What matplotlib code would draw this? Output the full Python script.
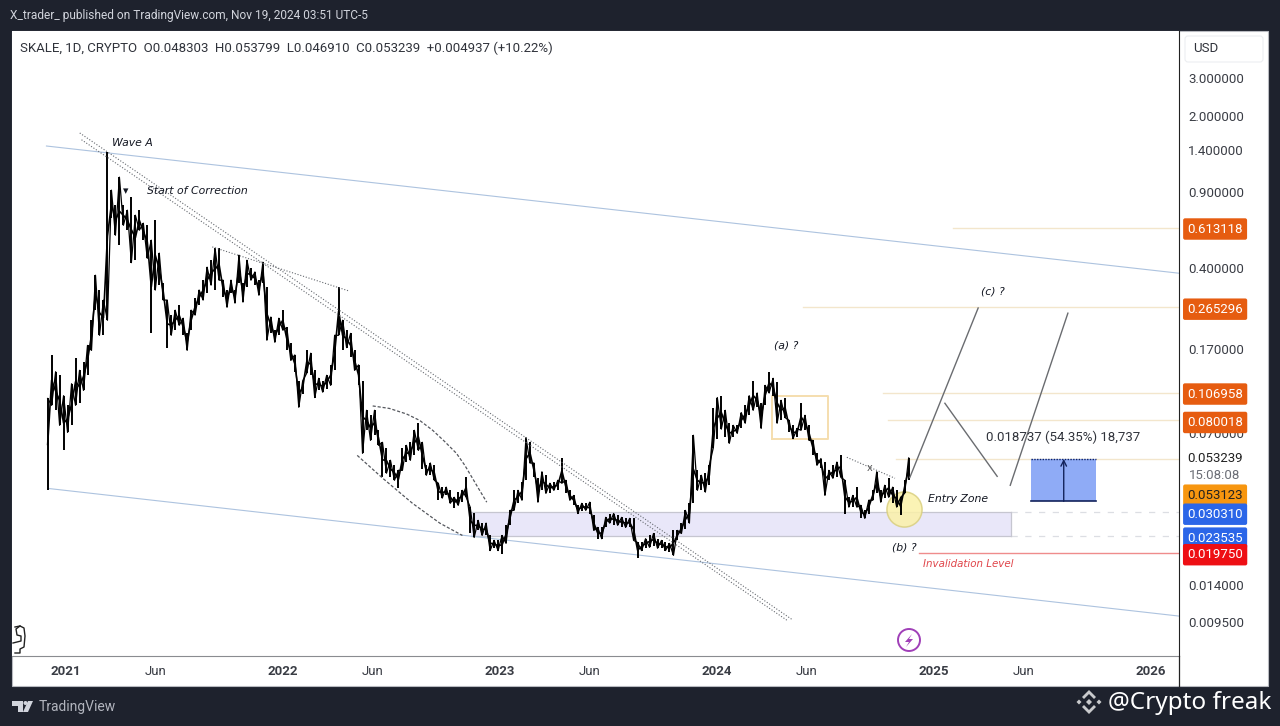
import matplotlib
matplotlib.use('Agg')
import matplotlib.dates as mdates
import matplotlib.pyplot as plt
import numpy as np
import pandas as pd
from matplotlib.patches import Circle, FancyBboxPatch, Polygon, Rectangle

# candle ranges, roughly one sample per week
highs = [.101, .160, .134, .129, .104, .0939, .118, .155, .136, .148, .177, .231, .372, .318, .286, 1.37,
         .915, .780, 1.05, .780, .740, .855, .702, .740, .645, .631, .539, .666, .470, .342, .286, .244,
         .257, .271, .236, .201, .257, .292, .318, .353, .405, .436, .495, .495, .353, .318, .353, .318,
         .460, .342, .436, .400, .385, .353, .427, .328, .239, .208, .236, .257, .214, .181, .160, .122,
         .122, .168, .163, .136, .125, .122, .129, .144, .197, .328, .231, .208, .201, .168, .144, .122,
         .0891, .0845, .0891, .0721, .0635, .0600, .0525, .0498, .0472, .0600, .0615, .0635, .0721, .0777,
         .0635, .0498, .0510, .0498, .0412, .0395, .0395, .0382, .0355, .0375, .0382, .0438, .0320, .0300,
         .0278, .0270, .0270, .0237, .0225, .0225, .0237, .0264, .0309, .0382, .0382, .0416, .0668, .0634,
         .0510, .0434, .0465, .0448, .0412, .0416, .0425, .0536, .0425, .0382, .0362, .0326, .0333, .0333,
         .0337, .0293, .0258, .0258, .0287, .0299, .0299, .0293, .0287, .0284, .0284, .0284, .0220, .0220,
         .0229, .0237, .0242, .0229, .0225, .0220, .0218, .0250, .0250, .0270, .0309, .0333, .0684, .0472,
         .0448, .0458, .0498, .0910, .102, .104, .0891, .0777, .0760, .0760, .0870, .0939, .104, .122,
         .107, .0960, .116, .133, .125, .120, .0990, .102, .0801, .0760, .0735, .0960, .0845, .0760,
         .0648, .0565, .0535, .0515, .0472, .0498, .0515, .0553, .0425, .0355, .0362, .0395, .0326, .0309,
         .0344, .0382, .0465, .0382, .0403, .0434, .0395, .0382, .0355, .0425, .0538]
lows = [.0382, .0939, .0891, .0760, .0583, .0705, .0760, .0939, .0960, .110, .129, .168, .257, .197, .197, .231,
        .680, .568, .511, .631, .599, .425, .436, .599, .539, .445, .201, .318, .335, .286, .173, .197,
        .208, .219, .197, .168, .208, .244, .271, .286, .307, .335, .318, .353, .295, .265, .307, .277,
        .342, .280, .328, .353, .335, .301, .342, .187, .201, .183, .197, .208, .168, .151, .133, .0920,
        .106, .132, .129, .102, .110, .108, .112, .116, .136, .197, .168, .173, .156, .136, .116, .0565,
        .0721, .0648, .0684, .0615, .0438, .0458, .0438, .0425, .0390, .0472, .0515, .0525, .0553, .0583,
        .0480, .0448, .0448, .0425, .0344, .0352, .0362, .0333, .0316, .0326, .0337, .0355, .0242, .0232,
        .0250, .0237, .0237, .0202, .0207, .0202, .0194, .0218, .0264, .0309, .0333, .0344, .0425, .0510,
        .0438, .0337, .0382, .0370, .0370, .0382, .0382, .0412, .0370, .0344, .0326, .0299, .0306, .0309,
        .0299, .0250, .0229, .0229, .0258, .0270, .0264, .0264, .0258, .0258, .0258, .0225, .0187, .0202,
        .0207, .0209, .0213, .0207, .0207, .0202, .0198, .0192, .0225, .0242, .0255, .0270, .0333, .0382,
        .0382, .0375, .0403, .0600, .0660, .0730, .0670, .0628, .0670, .0698, .0735, .0777, .0845, .0891,
        .0920, .0735, .0939, .107, .104, .0777, .0801, .0825, .0705, .0660, .0670, .0721, .0721, .0648,
        .0553, .0498, .0483, .0362, .0425, .0434, .0438, .0438, .0299, .0320, .0320, .0320, .0284, .0284,
        .0299, .0344, .0370, .0337, .0351, .0355, .0333, .0320, .0293, .0370, .0425]
first_day = '2020-12-01'
last_day = '2024-11-19'

price_ticks = [3.0, 2.0, 1.4, 0.9, 0.4, 0.17, 0.07, 0.014, 0.0095]
time_ticks = ['2021-01-01', '2021-06-01', '2022-01-01', '2022-06-01', '2023-01-01', '2023-06-01',
              '2024-01-01', '2024-06-01', '2025-01-01', '2025-06-01', '2026-01-01']
time_labels = ['2021', 'Jun', '2022', 'Jun', '2023', 'Jun', '2024', 'Jun', '2025', 'Jun', '2026']

tag_values = [0.613118, 0.265296, 0.106958, 0.080018, 0.053123, 0.030310, 0.023535, 0.019750]
tag_colors = ['#e65c10', '#e65c10', '#e65c10', '#e65c10', '#f7960f', '#2b66e8', '#2b66e8', '#ee0f14']
tag_text_colors = ['white', 'white', 'white', 'white', '#222222', 'white', 'white', 'white']
tag_shift = [1, 2, 1, 2, 36, 2, 2, 2]

level_prices = [0.613118, 0.265296, 0.106958, 0.080018, 0.053239]
level_starts = ['2025-02-02', '2024-05-26', '2024-10-07', '2024-10-15', '2024-10-29']

channel_upper = (['2020-11-29', '2026-02-17'], [1.46, 0.38])
channel_lower = (['2020-12-01', '2026-02-17'], [0.0390, 0.0101])
wedge_one = (['2021-01-24', '2024-05-08'], [1.676, 0.00969])
wedge_two = (['2021-01-27', '2024-04-30'], [1.56, 0.00959])
short_dots = (['2021-09-04', '2022-04-22'], [0.502, 0.315])
x_dots = (['2024-08-07', '2024-10-27'], [0.0542, 0.0434])
arc_upper = (['2022-06-01', '2022-06-29', '2022-07-28', '2022-08-19', '2022-09-10', '2022-09-30',
              '2022-10-20', '2022-11-03', '2022-11-16', '2022-11-28', '2022-12-10'],
             [0.0933, 0.0909, 0.0857, 0.0801, 0.0721, 0.0641, 0.0565, 0.0498, 0.0434, 0.0382, 0.0337])
arc_lower = (['2022-05-06', '2022-06-18', '2022-08-07', '2022-09-22', '2022-10-30'],
             [0.0553, 0.0434, 0.0333, 0.0270, 0.0237])
path_one = (['2024-11-21', '2025-03-16'], [0.0438, 0.263])
path_two = (['2025-01-19', '2025-04-17'], [0.0960, 0.0443])
path_three = (['2025-05-09', '2025-08-14'], [0.0403, 0.249])

zone_dates = ['2022-11-14', '2025-05-11']
zone_prices = [0.023535, 0.030310]
box_dates = ['2024-04-03', '2024-07-06']
box_prices = [0.0661, 0.104]
measure_dates = ['2025-06-13', '2025-08-07', '2025-09-30']
measure_prices = [0.0340, 0.0532]
stop_price = 0.019750
stop_start = '2024-12-07'


def num(days):
    return mdates.date2num(pd.to_datetime(days))


fig = plt.figure(figsize=(12.8, 7.26), dpi=100, facecolor='#1e222d')
fig.patches.append(Rectangle((12 / 1280, 1 - 686 / 726), 1256 / 1280, 655 / 726, transform=fig.transFigure,
                             facecolor='white', edgecolor='#b8bac0', linewidth=0.8, zorder=-1))

ax = fig.add_axes([12 / 1280, 1 - 656 / 726, 1167 / 1280, 625 / 726], zorder=1, facecolor='white')
ax.set_yscale('log')
ax.set_xlim(num('2020-10-02'), num('2026-02-17'))
ax.set_ylim(0.00662, 4.93)
for side in ['top', 'left']:
    ax.spines[side].set_visible(False)
ax.spines['bottom'].set_color('#8a8c90')
ax.spines['right'].set_color('#222222')

ax.yaxis.tick_right()
ax.set_yticks(price_ticks)
ax.set_yticklabels([f'{p:.6f}' for p in price_ticks], fontsize=9.5, family='Roboto', color='#3a3d45')
ax.minorticks_off()
ax.tick_params(axis='y', length=0, pad=6.5)
ax.set_xticks(num(time_ticks))
ax.set_xticklabels(time_labels, fontsize=9.5, family='Roboto', color='#3a3d45')
for label in ax.get_xticklabels():
    if label.get_text() != 'Jun':
        label.set_fontweight('bold')
ax.tick_params(axis='x', length=0, pad=6.5)

# zone and boxes go under the candles
ax.fill_between(num(zone_dates), zone_prices[0], zone_prices[1], color='#e9e7f9', linewidth=0, zorder=1)
for p in zone_prices:
    ax.plot(num(zone_dates), [p, p], color='#c6c6d0', lw=0.9, zorder=1.5)
    ax.plot([num(zone_dates)[1], num('2026-02-17')], [p, p], color='#dcdee3', lw=0.9, ls=(0, (5, 6)), zorder=1.5)
ax.plot(num(zone_dates)[[1, 1]], zone_prices, color='#c6c6d0', lw=0.9, zorder=1.5)

bx = num(box_dates)
ax.plot(bx[[0, 1, 1, 0, 0]], [box_prices[0], box_prices[0], box_prices[1], box_prices[1], box_prices[0]],
        color='#f5deae', lw=1.4, zorder=1.5)
ax.scatter(num('2024-11-11'), 0.0313, s=640, facecolor='#fbf1a8', edgecolor='#d9cf80', linewidth=1.1, alpha=0.85, zorder=1.6)

for price, start in zip(level_prices, level_starts):
    ax.plot([num(start), num('2026-02-17')], [price, price], color='#f3e6cc', lw=1, zorder=1.5)
ax.plot([num(stop_start), num('2026-02-17')], [stop_price, stop_price], color='#ef8c8c', lw=1, zorder=1.5)

for line in [channel_upper, channel_lower]:
    ax.plot(num(line[0]), line[1], color='#adc3df', lw=0.8, zorder=2)

candle_days = mdates.date2num(pd.date_range(first_day, last_day, periods=len(highs)))
ax.vlines(candle_days, lows, highs, color='black', lw=1.4, zorder=3)
# sawtooth between neighbouring ranges so the bars read as one dense daily series
saw = np.where(np.arange(len(highs)) % 2 == 0, highs, lows)
ax.plot(candle_days, saw, color='black', lw=0.9, zorder=3)
ax.plot(candle_days, np.sqrt(np.array(highs) * np.array(lows)), color='black', lw=1.2, zorder=3)

for line in [wedge_one, wedge_two, short_dots, x_dots]:
    ax.plot(num(line[0]), line[1], color='#666a70', lw=0.8, ls=(0, (1, 1.6)), zorder=4)
for line in [arc_upper, arc_lower]:
    ax.plot(num(line[0]), line[1], color='#55585e', lw=0.9, ls=(0, (2.5, 1.5)), zorder=4)
for line in [path_one, path_two, path_three]:
    ax.plot(num(line[0]), line[1], color='#6a6c70', lw=1.0, zorder=4)

mx = num(measure_dates)
ax.fill_between(mx[[0, 2]], measure_prices[0], measure_prices[1], color='#8fabf6', linewidth=0, zorder=2)
ax.plot(mx[[0, 2]], [measure_prices[0]] * 2, color='#13235c', lw=1.2, zorder=4)
ax.plot(mx[[0, 2]], [measure_prices[1]] * 2, color='#13235c', lw=1.0, ls=(0, (1, 1)), zorder=4)
ax.annotate('', xy=(mx[1], measure_prices[1]), xytext=(mx[1], measure_prices[0]), zorder=4,
            arrowprops=dict(arrowstyle='->', color='#13235c', lw=1, shrinkA=0, shrinkB=0))

note = dict(family='DejaVu Sans', style='italic', fontsize=7.8, color='#131722', zorder=5)
ax.text(num('2021-03-20'), 1.51, 'Wave A', ha='left', va='center', **note)
ax.text(num('2021-04-11'), 0.91, '\u25be', ha='center', va='center', **note)
ax.text(num('2021-05-18'), 0.91, 'Start of Correction', ha='left', va='center', **note)
ax.text(num('2024-04-27'), 0.176, '(a) ?', ha='center', va='center', **note)
ax.text(num('2025-04-10'), 0.314, '(c) ?', ha='center', va='center', **note)
ax.text(num('2024-11-11'), 0.0208, '(b) ?', ha='center', va='center', **note)
ax.text(num('2024-12-21'), 0.0348, 'Entry Zone', ha='left', va='center', **note)
ax.text(num('2024-12-13'), 0.0175, 'Invalidation Level', ha='left', va='center',
        **{**note, 'color': '#e0454a', 'fontsize': 7.4})
ax.text(num('2024-09-15'), 0.0483, 'x', ha='center', va='center', fontsize=7, color='#555555', zorder=5)
ax.text(num('2025-08-06'), 0.0672, '0.018737 (54.35%) 18,737', ha='center', va='center',
        fontsize=9.5, family='Roboto', color='#30333b', zorder=5)

# price tags on the axis; TradingView pushes them apart so they get a small shift
y_trans = ax.get_yaxis_transform()
for value, color, text_color, shift in zip(tag_values, tag_colors, tag_text_colors, tag_shift):
    ax.annotate(f'{value:.6f}', xy=(1, value), xycoords=y_trans, xytext=(26, -shift * 0.72), textcoords='offset points',
                ha='center', va='center', fontsize=9.5, family='Roboto', color=text_color, annotation_clip=False, zorder=6,
                bbox=dict(boxstyle='round,pad=0.32,rounding_size=0.15', facecolor=color, edgecolor='none'))
ax.annotate('0.053239', xy=(1, 0.053239), xycoords=y_trans, xytext=(26, 0), textcoords='offset points',
            ha='center', va='center', fontsize=9.5, family='Roboto', color='#222222', annotation_clip=False)
ax.annotate('15:08:08', xy=(1, 0.053239), xycoords=y_trans, xytext=(26, -12), textcoords='offset points',
            ha='center', va='center', fontsize=9.5, family='Roboto', color='#6a6d75', annotation_clip=False)

# page furniture in pixel coordinates
top = fig.add_axes([0, 0, 1, 1], zorder=2)
top.set_xlim(0, 1280)
top.set_ylim(726, 0)
top.axis('off')
top.plot([1179, 1179], [656, 686], color='#222222', lw=0.9)
top.text(10, 16, 'X_trader_ published on TradingView.com, Nov 19, 2024 03:51 UTC-5', family='Roboto',
         fontsize=8.6, color='#d1d4dc', va='center')
top.text(20, 48, 'SKALE, 1D, CRYPTO  O0.048303  H0.053799  L0.046910  C0.053239  +0.004937 (+10.22%)',
         family='Roboto', fontsize=9.5, color='#30333b', va='center')
top.add_patch(FancyBboxPatch((1185, 36), 78, 26, boxstyle='round,pad=0,rounding_size=3',
                             facecolor='white', edgecolor='#eceef1', lw=0.8))
top.text(1193, 49, 'USD', family='Roboto', fontsize=9.5, color='#30333b', va='center')
top.text(39, 707, 'TradingView', family='Roboto', fontsize=10, color='#b2b5be', va='center')
top.text(1108, 703, '@Crypto freak', family='Noto Sans', fontsize=17.5, color='white', va='center')

# TradingView logo
top.add_patch(Polygon([(12, 701), (23, 701), (23, 712), (18, 712), (18, 706), (12, 706)], color='#d1d4dc', lw=0))
top.add_patch(Circle((25.5, 703), 2, color='#d1d4dc', lw=0))
top.add_patch(Polygon([(28, 701), (33, 701), (28, 712), (23, 712)], color='#d1d4dc', lw=0))

# Binance style logo
logo = '#c9cacc'
cx, cy = 1089, 702
top.add_patch(Polygon([(cx, cy - 3), (cx + 3, cy), (cx, cy + 3), (cx - 3, cy)], color=logo, lw=0))
for dx in [-10, 10]:
    top.add_patch(Polygon([(cx + dx, cy - 2.5), (cx + dx + 2.5, cy), (cx + dx, cy + 2.5), (cx + dx - 2.5, cy)], color=logo, lw=0))
for s in [-1, 1]:
    top.add_patch(Polygon([(cx - 7, cy + s * 5), (cx, cy + s * 12), (cx + 7, cy + s * 5), (cx + 5, cy + s * 3),
                           (cx, cy + s * 8), (cx - 5, cy + s * 3)], color=logo, lw=0))

# bolt badge and the hook glyph at the bottom left
top.add_patch(Circle((909, 640), 11, facecolor='white', edgecolor='#a040b8', lw=1.4))
top.add_patch(Polygon([(912, 634), (905, 642), (909, 642), (906, 647), (913, 639), (909, 639)], color='#a040b8', lw=0))
top.plot([15, 20, 24, 25, 24, 20, 20, 15], [627, 626, 628, 636, 647, 649, 653, 653], color='#222222', lw=1)
top.plot([20, 16, 17, 21, 21, 13], [626, 629, 635, 636, 641, 643], color='#222222', lw=1)

fig.savefig('out.png', dpi=100, facecolor=fig.get_facecolor())
